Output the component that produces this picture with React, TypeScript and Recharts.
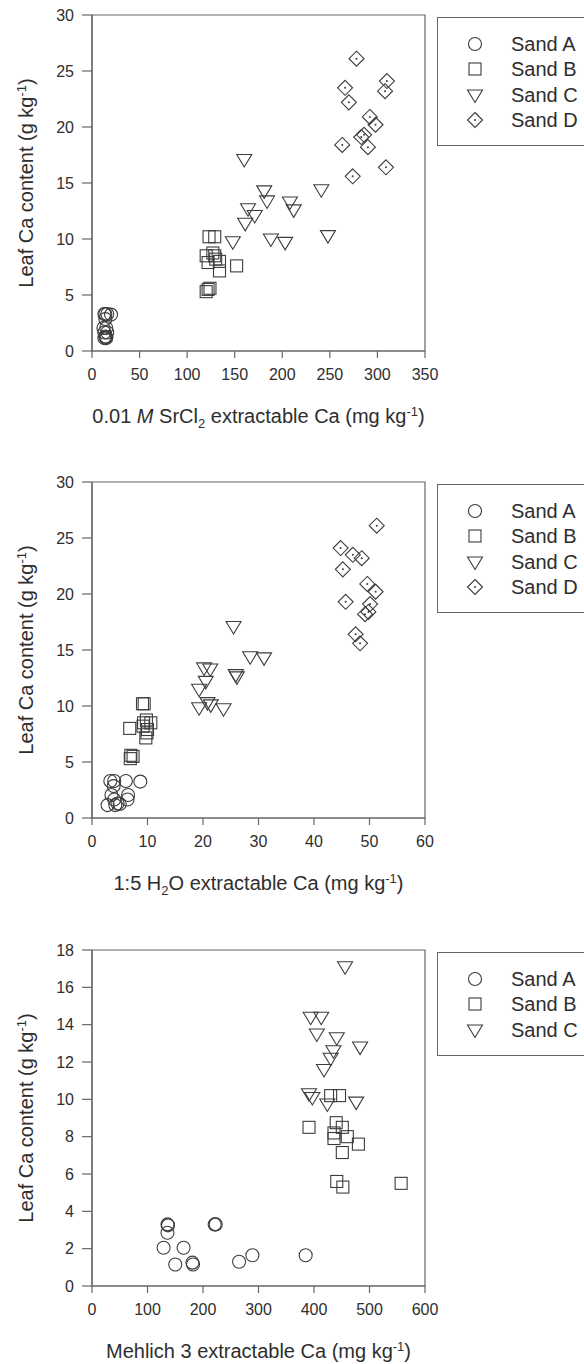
import React from 'react';
import { ScatterChart, Scatter, XAxis, YAxis, ReferenceArea, Legend } from 'recharts';

// leaf Ca (g/kg) against three soil tests, one list of [x, y] per sand

const sandNames = ['Sand A', 'Sand B', 'Sand C', 'Sand D'];

// 0.01 M SrCl2 extractable Ca (mg/kg)
const srSandA = [[13, 3.3], [14, 3.3], [16, 3.3], [20, 3.25], [14, 2.85], [12, 2.05], [15, 2.05], [13, 1.65], [16, 1.65], [14, 1.3], [15, 1.25], [13, 1.15], [15, 1.15]];
const srSandB = [[123, 10.2], [129, 10.2], [127, 8.75], [120, 8.5], [129, 8.5], [130, 8.2], [134, 8.0], [122, 7.9], [152, 7.6], [134, 7.15], [124, 5.6], [122, 5.5], [120, 5.3]];
const srSandC = [[160, 17.1], [181, 14.3], [241, 14.4], [184, 13.4], [208, 13.3], [164, 12.7], [212, 12.6], [171, 12.1], [161, 11.4], [148, 9.75], [188, 10.0], [203, 9.7], [248, 10.3]];
const srSandD = [[278, 26.1], [310, 24.1], [266, 23.5], [308, 23.2], [270, 22.2], [292, 20.9], [298, 20.2], [286, 19.3], [283, 19.1], [263, 18.4], [290, 18.2], [309, 16.4], [274, 15.6]];

// 1:5 H2O extractable Ca (mg/kg)
const h2oSandA = [[3.3, 3.3], [4.0, 3.3], [6.1, 3.3], [8.7, 3.25], [3.9, 2.85], [3.5, 2.05], [6.5, 2.05], [6.4, 1.65], [4.0, 1.65], [4.6, 1.3], [5.0, 1.25], [2.8, 1.15], [4.2, 1.15]];
const h2oSandB = [[9.1, 10.2], [9.4, 10.2], [9.8, 8.75], [10.6, 8.5], [9.3, 8.5], [9.2, 8.2], [6.8, 8.0], [10.0, 7.9], [9.9, 7.6], [9.7, 7.15], [7.0, 5.6], [7.4, 5.5], [6.9, 5.3]];
const h2oSandC = [[25.5, 17.1], [28.5, 14.4], [31.0, 14.3], [20.2, 13.4], [21.3, 13.3], [25.9, 12.8], [26.1, 12.6], [20.5, 12.2], [19.3, 11.5], [20.8, 10.3], [21.4, 10.1], [19.3, 9.85], [23.7, 9.75]];
const h2oSandD = [[51.3, 26.1], [44.8, 24.1], [47.0, 23.5], [48.6, 23.2], [45.2, 22.2], [49.6, 20.9], [51.1, 20.2], [45.7, 19.3], [50.1, 19.1], [49.8, 18.4], [49.2, 18.2], [47.5, 16.4], [48.3, 15.6]];

// Mehlich 3 extractable Ca (mg/kg)
const m3SandA = [[129, 2.05], [136, 3.3], [137, 3.25], [136, 2.85], [150, 1.15], [165, 2.05], [181, 1.25], [182, 1.15], [221, 3.3], [223, 3.3], [265, 1.3], [289, 1.65], [385, 1.65]];
const m3SandB = [[391, 8.5], [430, 10.2], [446, 10.2], [440, 8.75], [451, 8.5], [436, 8.2], [436, 7.9], [460, 8.0], [451, 7.15], [480, 7.6], [441, 5.6], [452, 5.3], [557, 5.5]];
const m3SandC = [[456, 17.1], [394, 14.4], [413, 14.4], [405, 13.5], [441, 13.3], [435, 12.6], [483, 12.8], [430, 12.2], [418, 11.6], [391, 10.3], [397, 10.1], [424, 9.75], [476, 9.85]];

const srTicks = [0, 50, 100, 150, 200, 250, 300, 350];
const h2oTicks = [0, 10, 20, 30, 40, 50, 60];
const m3Ticks = [0, 100, 200, 300, 400, 500, 600];
const leafTicks30 = [0, 5, 10, 15, 20, 25, 30];
const leafTicks18 = [0, 2, 4, 6, 8, 10, 12, 14, 16, 18];

const ink = '#3c3c3c';
const axisGray = '#666666';
const textColor = '#2e2e2e';
const font = '"Liberation Sans", Arial, sans-serif';

const toPoints = (arr) => arr.map(([x, y]) => ({ x, y }));

function Marker({ kind, cx, cy }) {
  const common = { fill: 'none', stroke: ink, strokeWidth: 1.1 };
  if (kind === 'circle') return <circle cx={cx} cy={cy} r={6.5} {...common} />;
  if (kind === 'square') return <rect x={cx - 6} y={cy - 6} width={12} height={12} {...common} />;
  if (kind === 'triangle')
    return <path d={`M${cx - 7.5},${cy - 5} L${cx + 7.5},${cy - 5} L${cx},${cy + 7.5} Z`} {...common} />;
  return (
    <g>
      <path d={`M${cx},${cy - 7.5} L${cx + 7.5},${cy} L${cx},${cy + 7.5} L${cx - 7.5},${cy} Z`} {...common} />
      <circle cx={cx} cy={cy} r={1} fill={ink} />
    </g>
  );
}

// rich text: parts with optional sub / sup / italic
function RichText({ parts, ...rest }) {
  let shift = 0;
  return (
    <text {...rest} fill={textColor} fontFamily={font} fontSize={20}>
      {parts.map((p, i) => {
        const target = p.sub ? 5 : p.sup ? -7 : 0;
        const dy = target - shift;
        shift = target;
        return (
          <tspan key={i} dy={dy} fontSize={p.sub || p.sup ? 13 : 20} fontStyle={p.italic ? 'italic' : 'normal'}>
            {p.t}
          </tspan>
        );
      })}
    </text>
  );
}

const srTitle = [{ t: '0.01 ' }, { t: 'M', italic: true }, { t: ' SrCl' }, { t: '2', sub: true }, { t: ' extractable Ca (mg kg' }, { t: '-1', sup: true }, { t: ')' }];
const h2oTitle = [{ t: '1:5 H' }, { t: '2', sub: true }, { t: 'O extractable Ca (mg kg' }, { t: '-1', sup: true }, { t: ')' }];
const m3Title = [{ t: 'Mehlich 3 extractable Ca (mg kg' }, { t: '-1', sup: true }, { t: ')' }];
const leafTitle = [{ t: 'Leaf Ca content (g kg' }, { t: '-1', sup: true }, { t: ')' }];

function XTitle(props) {
  const vb = props.viewBox || { x: 92, y: 351, width: 333 };
  return <RichText parts={props.parts} x={vb.x + vb.width / 2} y={vb.y + 72} textAnchor="middle" />;
}

function YTitle(props) {
  const vb = props.viewBox || { y: 15, height: 336 };
  const cy = vb.y + vb.height / 2;
  return <RichText parts={leafTitle} x={33} y={cy} textAnchor="middle" transform={`rotate(-90 33 ${cy})`} />;
}

function LegendBox({ items }) {
  return (
    <div
      style={{
        width: 160,
        height: 28 + items.length * 25.3,
        border: `1px solid ${axisGray}`,
        boxSizing: 'border-box',
        position: 'relative',
        background: '#fff',
        fontFamily: font,
      }}
    >
      {items.map((s, i) => (
        <div key={s.name} style={{ position: 'absolute', left: 0, top: 26 + i * 25.3 - 12, height: 24, display: 'flex', alignItems: 'center' }}>
          <svg width={73} height={24} style={{ display: 'block' }}>
            <Marker kind={s.kind} cx={37} cy={12} />
          </svg>
          <span style={{ fontSize: 20, color: textColor, lineHeight: '24px', whiteSpace: 'nowrap' }}>{s.name}</span>
        </div>
      ))}
    </div>
  );
}

function Panel({ top, xDomain, xTicks, yDomain, yTicks, xTitle, series }) {
  return (
    <div style={{ position: 'absolute', left: 0, top }}>
      <ScatterChart width={584} height={440} margin={{ top: 15, right: 159, bottom: 0, left: 0 }}>
        <XAxis
          type="number"
          dataKey="x"
          domain={xDomain}
          ticks={xTicks}
          interval={0}
          height={89}
          tickSize={7}
          tickMargin={11}
          axisLine={{ stroke: axisGray, strokeWidth: 1.2 }}
          tickLine={{ stroke: axisGray, strokeWidth: 1.2 }}
          tick={{ fill: textColor, fontSize: 16, fontFamily: font }}
          label={<XTitle parts={xTitle} />}
        />
        <YAxis
          type="number"
          dataKey="y"
          domain={yDomain}
          ticks={yTicks}
          interval={0}
          width={92}
          tickSize={10}
          tickMargin={8}
          axisLine={{ stroke: axisGray, strokeWidth: 1.2 }}
          tickLine={{ stroke: axisGray, strokeWidth: 1.2 }}
          tick={{ fill: textColor, fontSize: 16, fontFamily: font }}
          label={<YTitle />}
        />
        <ReferenceArea
          x1={xDomain[0]}
          x2={xDomain[1]}
          y1={yDomain[0]}
          y2={yDomain[1]}
          fill="none"
          stroke={axisGray}
          strokeWidth={1.2}
          ifOverflow="visible"
        />
        {series.map((s) => (
          <Scatter
            key={s.name}
            name={s.name}
            data={toPoints(s.data)}
            isAnimationActive={false}
            shape={(p) => <Marker kind={s.kind} cx={p.cx} cy={p.cy} />}
          />
        ))}
        <Legend
          layout="vertical"
          align="center"
          verticalAlign="middle"
          wrapperStyle={{ left: 437, top: 17, width: 160 }}
          content={() => <LegendBox items={series} />}
        />
      </ScatterChart>
    </div>
  );
}

const kinds = ['circle', 'square', 'triangle', 'diamond'];

export default function App() {
  const srSeries = [srSandA, srSandB, srSandC, srSandD].map((data, i) => ({ name: sandNames[i], kind: kinds[i], data }));
  const h2oSeries = [h2oSandA, h2oSandB, h2oSandC, h2oSandD].map((data, i) => ({ name: sandNames[i], kind: kinds[i], data }));
  const m3Series = [m3SandA, m3SandB, m3SandC].map((data, i) => ({ name: sandNames[i], kind: kinds[i], data }));

  return (
    <>
      <style>{'html, body { margin: 0; padding: 0; overflow: hidden; }'}</style>
      <div style={{ position: 'relative', width: 584, height: 1364, overflow: 'hidden', background: '#fff' }}>
        <Panel top={0} xDomain={[0, 350]} xTicks={srTicks} yDomain={[0, 30]} yTicks={leafTicks30} xTitle={srTitle} series={srSeries} />
        <Panel top={467} xDomain={[0, 60]} xTicks={h2oTicks} yDomain={[0, 30]} yTicks={leafTicks30} xTitle={h2oTitle} series={h2oSeries} />
        <Panel top={935} xDomain={[0, 600]} xTicks={m3Ticks} yDomain={[0, 18]} yTicks={leafTicks18} xTitle={m3Title} series={m3Series} />
      </div>
    </>
  );
}
